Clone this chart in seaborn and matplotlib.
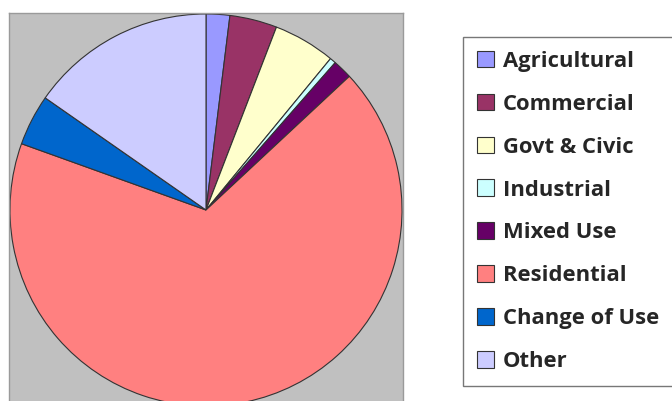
import matplotlib
matplotlib.use("Agg")
import matplotlib.pyplot as plt
import seaborn as sns

sns.set_theme(style="white")
plt.rcParams['font.family'] = ['Open Sans', 'DejaVu Sans']

labels = ["Agricultural", "Commercial", "Govt & Civic", "Industrial",
          "Mixed Use", "Residential", "Change of Use", "Other"]
shares = [1.95, 3.9, 5.1, 0.5, 1.6, 67.4, 4.2, 15.3]
colors = ["#9999FF", "#993366", "#FFFFCC", "#CCFFFF",
          "#660066", "#FF8080", "#0066CC", "#CCCCFF"]

fig = plt.figure(figsize=(6.72, 4.01), dpi=100)
ax = fig.add_axes([9/672, 1 - 407/401, 394/672, 394/401])

wedges, _ = ax.pie(shares, colors=colors, startangle=90, counterclock=False,
                   radius=1.0, frame=True,
                   wedgeprops=dict(edgecolor="#333333", linewidth=0.8))
ax.set_facecolor("#c0c0c0")
ax.set_xlim(-1.005, 1.005)
ax.set_ylim(-1.005, 1.005)
ax.set_aspect("auto")
ax.set_xticks([])
ax.set_yticks([])
for s in ax.spines.values():
    s.set_visible(True)
    s.set_color("#9a9a9a")
    s.set_linewidth(1.0)

leg = fig.legend(wedges, labels, loc="upper left",
                 bbox_to_anchor=(463/672, 1 - 37/401),
                 frameon=True, fancybox=False, shadow=False,
                 prop=dict(size=15.8, weight="bold"),
                 handlelength=0.8, handleheight=0.8, handletextpad=0.4,
                 labelspacing=1.0, borderpad=0.62, borderaxespad=0)
leg.get_frame().set_edgecolor("#555555")
leg.get_frame().set_linewidth(1.0)
for h in leg.legend_handles:
    h.set_linewidth(0.8)
    h.set_edgecolor("#333333")

fig.savefig("out.png", dpi=100)
